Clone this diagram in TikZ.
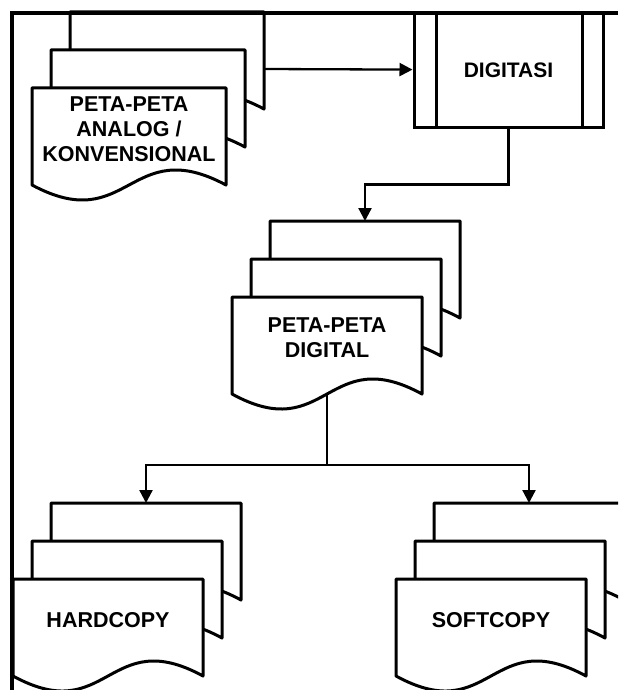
\documentclass[tikz,border=0pt]{standalone}
\usepackage{fontspec}
\setmainfont{Liberation Sans}
\usetikzlibrary{arrows.meta}

\tikzset{
  sheet/.style={draw=black,fill=white,line width=3pt,line join=round},
  conn/.style={draw=black,line width=2.3pt},
  flow/.style={conn,-{Triangle[length=13pt,width=13pt]}},
  frameline/.style={draw=black,line width=3.4pt},
  doctext/.style={align=center,font=\fontsize{21.5}{25}\selectfont\bfseries},
  procbox/.style={draw=black,line width=3pt,minimum width=189pt,minimum height=114pt,
                  font=\fontsize{21}{25}\selectfont\bfseries}
}

% three stacked sheets, front sheet top left at (#2,#3), width #4
\newcommand{\docstack}[4]{%
  \foreach \k in {2,1,0}{
    \draw[sheet] ({#2+19*\k},{#3-38*\k}) -- ({#2+19*\k+#4},{#3-38*\k})
      -- ({#2+19*\k+#4},{#3-38*\k+97})
      .. controls ({#2+19*\k+#4/2},{#3-38*\k+45}) and ({#2+19*\k+#4/2},{#3-38*\k+149})
      .. ({#2+19*\k},{#3-38*\k+97}) -- cycle;
  }
  \coordinate (#1-top) at ({#2+38+#4/2},{#3-76});
  \coordinate (#1-side) at ({#2+38+#4},{#3-19});
  \coordinate (#1-bot) at ({#2+#4/2},{#3+97});
}

\begin{document}
\begin{tikzpicture}[x=1pt,y=-1pt]
  \useasboundingbox (0,0) rectangle (618,690);
  \clip (0,0) rectangle (618,690);

  \docstack{analog}{32}{88}{194}
  \docstack{digital}{232}{297}{190}
  \docstack{hard}{13}{579}{190}
  \docstack{soft}{396}{579}{190}

  \node[doctext] (analog) at (129,129) {PETA-PETA\\ANALOG /\\KONVENSIONAL};
  \node[doctext] (digital) at (327,338) {PETA-PETA\\DIGITAL};
  \node[doctext] (hardcopy) at (108,620) {HARDCOPY};
  \node[doctext] (softcopy) at (491,620) {SOFTCOPY};

  \node[procbox] (digitasi) at (508.5,70) {DIGITASI};
  \draw[conn,line width=3pt] ([xshift=24pt]digitasi.north west) -- ([xshift=24pt]digitasi.south west);
  \draw[conn,line width=3pt] ([xshift=-22pt]digitasi.north east) -- ([xshift=-22pt]digitasi.south east);

  \draw[flow] (analog-side) -- (digitasi);
  \draw[flow] (digitasi.south) -- ++(0,56) -| (digital-top);
  \draw[conn] (digital-bot) -- ++(0,71) coordinate (split);
  \draw[flow] (split) -| (hard-top);
  \draw[flow] (split) -| (soft-top);

  \draw[frameline] (12,690) -- (12,13) -- (618,13);
\end{tikzpicture}
\end{document}
